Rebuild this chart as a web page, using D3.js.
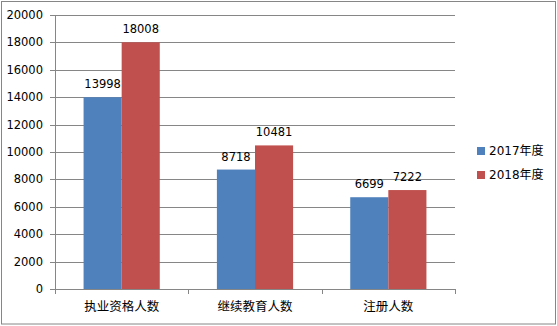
<!DOCTYPE html>
<html>
<head>
<meta charset="utf-8">
<script src="https://cdn.jsdelivr.net/npm/d3@7"></script>
<style>
  body { margin: 0; background: #fff; }
  text { font-family: "DejaVu Sans", "Noto Sans CJK SC", sans-serif; fill: #000; }
</style>
</head>
<body>
<div id="chart"></div>
<script>
const categories = ["执业资格人数", "继续教育人数", "注册人数"];
const seriesNames = ["2017年度", "2018年度"];
const values2017 = [13998, 8718, 6699];
const values2018 = [18008, 10481, 7222];
const yTicks = [0, 2000, 4000, 6000, 8000, 10000, 12000, 14000, 16000, 18000, 20000];
const colors = ["#4F81BD", "#C0504D"];

const W = 557, H = 326;
const margin = {top: 15, right: 102, bottom: 37, left: 55},
    width = W - margin.left - margin.right,
    height = H - margin.top - margin.bottom;

const svgRoot = d3.select("#chart")
    .append("svg")
    .attr("width", W)
    .attr("height", H);

// outer frame
svgRoot.append("rect")
    .attr("x", 1.5).attr("y", 1.5)
    .attr("width", W - 3).attr("height", H - 3.5)
    .attr("fill", "none")
    .attr("stroke", "#868686");

const svg = svgRoot.append("g")
    .attr("transform", "translate(" + margin.left + "," + margin.top + ")");

const x0 = d3.scaleBand().domain(categories).range([0, width]).padding(0);
const y = d3.scaleLinear().domain([0, 20000]).range([height, 0]);

// gridlines
svg.selectAll(".grid")
    .data(yTicks.filter(d => d > 0))
    .enter().append("line")
    .attr("x1", 0).attr("x2", width)
    .attr("y1", d => Math.round(y(d)) + 0.5)
    .attr("y2", d => Math.round(y(d)) + 0.5)
    .attr("stroke", "#868686");

// bars: gap width 150% of bar
const bw = x0.bandwidth() / 3.5;
const data = categories.map((c, i) => ({cat: c, vals: [values2017[i], values2018[i]]}));

const groups = svg.selectAll(".grp")
    .data(data)
    .enter().append("g")
    .attr("transform", d => "translate(" + (x0(d.cat) + bw * 0.75) + ",0)");

groups.selectAll("rect")
    .data(d => d.vals)
    .enter().append("rect")
    .attr("x", (d, i) => i * bw)
    .attr("y", d => y(d))
    .attr("width", bw)
    .attr("height", d => height - y(d))
    .attr("fill", (d, i) => colors[i]);

groups.selectAll(".lbl")
    .data(d => d.vals)
    .enter().append("text")
    .attr("x", (d, i) => i * bw + bw / 2)
    .attr("y", d => y(d) - 9)
    .attr("text-anchor", "middle")
    .style("font-size", "11.5px")
    .text(d => d);

// y axis
svg.append("line")
    .attr("x1", 0.5).attr("x2", 0.5)
    .attr("y1", 0).attr("y2", height)
    .attr("stroke", "#868686");
svg.selectAll(".ytick")
    .data(yTicks)
    .enter().append("line")
    .attr("x1", -5).attr("x2", 0)
    .attr("y1", d => Math.round(y(d)) + 0.5)
    .attr("y2", d => Math.round(y(d)) + 0.5)
    .attr("stroke", "#868686");
svg.selectAll(".ylbl")
    .data(yTicks)
    .enter().append("text")
    .attr("x", -12)
    .attr("y", d => y(d) + 4)
    .attr("text-anchor", "end")
    .style("font-size", "11.5px")
    .text(d => d);

// x axis
svg.append("line")
    .attr("x1", 0).attr("x2", width)
    .attr("y1", Math.round(height) + 0.5).attr("y2", Math.round(height) + 0.5)
    .attr("stroke", "#868686");
svg.selectAll(".xtick")
    .data(d3.range(categories.length + 1))
    .enter().append("line")
    .attr("x1", d => Math.round(d * x0.step()) + 0.5)
    .attr("x2", d => Math.round(d * x0.step()) + 0.5)
    .attr("y1", height).attr("y2", height + 5)
    .attr("stroke", "#868686");
svg.selectAll(".xlbl")
    .data(categories)
    .enter().append("text")
    .attr("x", d => x0(d) + x0.bandwidth() / 2)
    .attr("y", height + 22)
    .attr("text-anchor", "middle")
    .style("font-size", "12.5px")
    .text(d => d);

// legend
const legend = svgRoot.selectAll(".leg")
    .data(seriesNames)
    .enter().append("g")
    .attr("transform", (d, i) => "translate(477," + (147 + i * 24) + ")");
legend.append("rect")
    .attr("width", 8).attr("height", 8)
    .attr("fill", (d, i) => colors[i]);
legend.append("text")
    .attr("x", 12).attr("y", 8)
    .style("font-size", "12px")
    .text(d => d);
</script>
</body>
</html>
